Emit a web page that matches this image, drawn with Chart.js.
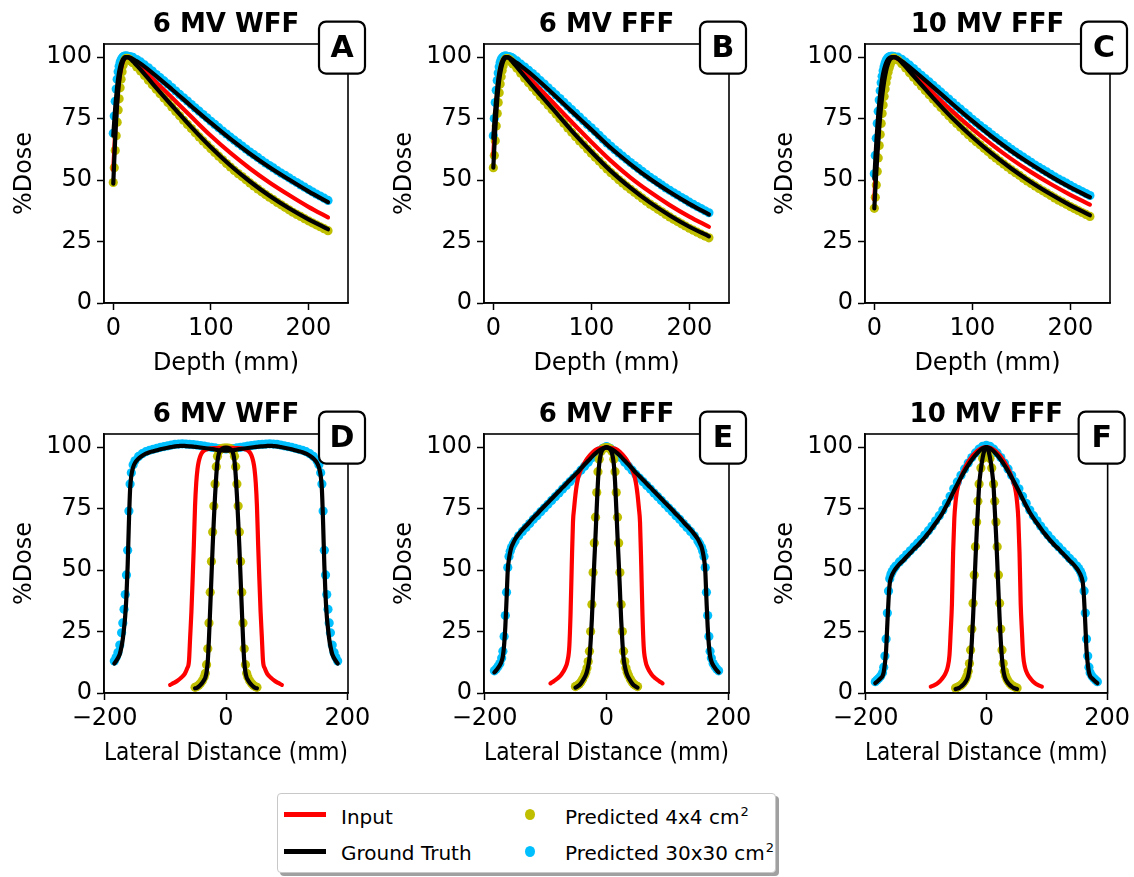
<!DOCTYPE html>
<html>
<head>
<meta charset="utf-8">
<script src="https://cdn.jsdelivr.net/npm/chart.js@4.4.1/dist/chart.umd.min.js"></script>
<style>
  body { margin: 0; background: #fff; width: 1134px; height: 877px; position: relative; overflow: hidden; font-family: "DejaVu Sans", sans-serif; }
  canvas { position: absolute; }
  #legend { position: absolute; left: 277px; top: 793px; width: 497px; height: 78px; border: 1px solid #c8c8c8; border-radius: 4px; background: #fff; box-shadow: 3px 3px 0 #a0a0a0; }
  #legend .ln { position: absolute; left: 6px; width: 42px; height: 4.5px; }
  #legend .dot { position: absolute; left: 247px; width: 10px; height: 11px; border-radius: 50%; }
  #legend .tx { position: absolute; font-size: 20px; line-height: 20px; color: #000; white-space: nowrap; }
  #legend sup { font-size: 13px; position: relative; top: -8px; vertical-align: baseline; margin-left: 1px; }
</style>
</head>
<body>
<canvas id="pA" width="378" height="380" style="left:0px;top:0px"></canvas>
<canvas id="pB" width="378" height="380" style="left:380px;top:0px"></canvas>
<canvas id="pC" width="373" height="380" style="left:761px;top:0px"></canvas>
<canvas id="pD" width="378" height="380" style="left:0px;top:390px"></canvas>
<canvas id="pE" width="378" height="380" style="left:380px;top:390px"></canvas>
<canvas id="pF" width="373" height="380" style="left:761px;top:390px"></canvas>

<div id="legend">
  <div class="ln" style="top:18px;background:#ff0000"></div>
  <div class="tx" style="left:63px;top:13px">Input</div>
  <div class="ln" style="top:55px;background:#000000"></div>
  <div class="tx" style="left:63px;top:49px">Ground Truth</div>
  <div class="dot" style="top:15px;background:#bfbf00"></div>
  <div class="tx" style="left:287px;top:13px">Predicted 4x4 cm<sup>2</sup></div>
  <div class="dot" style="top:52px;background:#00bfff"></div>
  <div class="tx" style="left:287px;top:49px">Predicted 30x30 cm<sup>2</sup></div>
</div>

<script>
// ---- depth dose curves (panels A-C) ----
const depthLine = [0,1,2,3,4,5,6,8,10,12,14,16,18,20,22,25,30,40,60,80,100,120,140,160,180,200,220];
const depthDots = [0,1,2,3,4,5,6,7,8,9,10,11,12,13,14,15,16,17,18,19,20,
  24,28,32,36,40,44,48,52,56,60,64,68,72,76,80,84,88,92,96,100,104,108,112,116,120,124,128,132,136,140,
  144,148,152,156,160,164,168,172,176,180,184,188,192,196,200,204,208,212,216,220];

const inputA = [54,62,70,77,82.5,87,90.5,95.3,98.3,99.7,100,99.8,99.4,98.8,98.1,97.0,95.2,91.3,83.5,75.7,68.0,61.0,54.7,49.0,43.9,39.1,34.8];
const truth4A = [48.5,58,67,75,81,86,90,95.3,98.3,99.6,100,99.7,99.1,98.3,97.5,96.2,94.0,89.3,80.3,71.5,63.3,55.9,49.4,43.6,38.5,34.0,30.0];
const truth30A = [68,74,79.5,84,88,91.3,94,97.3,99.2,100,100,99.9,99.6,99.2,98.7,98.1,96.7,93.6,86.9,80.0,73.2,66.7,60.7,55.2,50.2,45.4,41.0];
const pred4A = [49,55,62,68,73.5,78.5,83,87.5,91,94,96.7,98.0,98.9,99.4,99.5,99.3,99.1,98.8,98.5,98.1,97.7,
  96.0,94.3,92.5,90.6,88.7,86.9,85.1,83.3,81.5,79.7,77.9,76.1,74.3,72.6,70.9,69.2,67.5,65.9,64.3,62.7,
  61.2,59.7,58.2,56.7,55.3,53.9,52.6,51.4,50.1,48.8,47.6,46.4,45.2,44.1,43.0,42.0,40.9,39.9,38.9,37.9,
  36.9,36.0,35.2,34.3,33.4,32.6,31.8,31.0,30.2,29.4];
const pred30A = [69,76,82,87,91,94,96.3,97.8,98.8,99.5,100,100.3,100.4,100.4,100.4,100.3,100.2,100.1,100.0,99.9,99.9,
  99.0,98.0,96.8,95.6,94.3,92.9,91.6,90.3,89.0,87.6,86.2,84.8,83.4,82.1,80.7,79.3,78.0,76.6,75.3,73.9,
  72.6,71.3,69.9,68.7,67.4,66.2,65.0,63.8,62.6,61.4,60.3,59.2,58.0,56.9,55.9,54.9,53.8,52.8,51.9,50.9,
  49.9,49.0,48.0,47.1,46.1,45.2,44.3,43.5,42.6,41.7];

const inputB = [60,67.5,74.5,80.5,85.5,89.5,92.5,96.5,98.8,99.9,100,99.7,99.1,98.3,97.5,96.3,94.3,90.2,81.9,73.6,65.5,57.8,51.0,45.1,39.8,35.1,31.0];
const truth4B = [55,63,70.5,77,82.5,87,90.5,95.3,98.2,99.6,100,99.6,98.8,97.8,96.9,95.5,93.0,88.3,79.2,70.0,61.5,53.6,46.8,40.8,35.6,31.0,27.1];
const truth30B = [67,73,78.5,83,87,90.5,93.3,97,99.1,100,100,99.8,99.3,98.7,98.1,97.4,95.8,92.6,85.4,77.9,70.5,63.0,56.4,50.4,45.1,40.3,36.0];
const pred4B = [55,60,66,72,77,81.5,85.5,89,92,94.5,96.5,98,98.9,99.3,99.4,99.2,99.0,98.7,98.3,97.8,97.2,
  95.4,93.4,91.4,89.5,87.7,85.9,84.0,82.2,80.4,78.6,76.8,74.9,73.1,71.2,69.4,67.6,65.9,64.3,62.6,60.9,
  59.3,57.7,56.1,54.5,53.0,51.6,50.1,48.8,47.5,46.2,45.0,43.8,42.6,41.4,40.2,39.2,38.1,37.1,36.0,35.0,
  34.0,33.1,32.2,31.3,30.4,29.6,28.8,28.0,27.2,26.5];
const pred30B = [68,75,81.5,86.5,90.5,93.5,96,97.8,98.9,99.6,100,100.3,100.4,100.4,100.3,100.2,100.1,100.0,99.9,99.7,99.4,
  98.4,97.1,95.9,94.6,93.3,91.9,90.4,89.0,87.5,86.1,84.6,83.1,81.6,80.1,78.6,77.1,75.6,74.1,72.6,71.2,
  69.7,68.2,66.6,65.1,63.7,62.3,61.0,59.7,58.4,57.1,55.9,54.7,53.5,52.3,51.1,50.1,49.0,47.9,46.8,45.8,
  44.8,43.9,42.9,42.0,41.0,40.1,39.2,38.4,37.5,36.7];

const inputC = [42,49.5,56.5,63,69,74.5,79,86.5,92,95.8,98.3,99.5,100,100,99.7,99.0,97.3,93.4,85.4,77.8,70.8,64.4,58.5,53.2,48.4,44.0,40.0];
const truth4C = [38.5,46,53,59.5,65.5,71,76,84,90,94.3,97.2,99,99.7,100,99.8,99.0,96.9,92.3,83.4,75.0,67.5,60.7,54.6,49.1,44.2,39.7,35.7];
const truth30C = [50.5,58,65,71,76.5,81,85,91,95,97.6,99.1,99.8,100,100,99.8,99.2,97.8,94.6,87.8,80.8,74.0,67.6,61.7,56.4,51.5,47.0,43.0];
const pred4C = [38.5,43,48,53.5,59,64,68.5,73,77,80.5,84,87,89.5,91.8,93.8,95.4,96.8,97.9,98.7,99.3,99.6,
  98.8,97.3,95.5,93.6,91.8,90.0,88.2,86.4,84.7,82.9,81.2,79.5,77.8,76.1,74.5,73.0,71.5,69.9,68.4,67.0,
  65.6,64.3,62.9,61.6,60.2,59.0,57.7,56.5,55.3,54.1,53.0,51.9,50.7,49.6,48.6,47.6,46.6,45.6,44.7,43.7,
  42.7,41.8,41.0,40.1,39.2,38.4,37.6,36.8,36.0,35.2];
const pred30C = [52.5,60,67,73,78,82.5,86.3,89.5,92.2,94.4,96.1,97.5,98.5,99.2,99.7,100,100.2,100.3,100.3,100.3,100.2,
  100.0,99.1,97.9,96.7,95.3,93.9,92.6,91.2,89.9,88.5,87.1,85.7,84.3,82.9,81.5,80.1,78.8,77.4,76.1,74.7,
  73.4,72.1,70.9,69.7,68.4,67.2,66.0,64.8,63.6,62.5,61.4,60.3,59.3,58.2,57.2,56.1,55.2,54.2,53.3,52.3,
  51.3,50.4,49.6,48.7,47.8,46.9,46.1,45.3,44.5,43.7];

// ---- lateral profiles (panels D-F) ----
const latWide = [-184,-181,-178,-175,-172,-170,-168,-166,-164,-162,-160,-158,-156,-153,-150,
  -144,-138,-132,-126,-120,-114,-108,-102,-96,-90,-84,-78,-72,-66,-60,-54,-48,-42,-36,-30,-24,-18,-12,-6,
  0,
  6,12,18,24,30,36,42,48,54,60,66,72,78,84,90,96,102,108,114,120,126,132,138,144,
  150,153,156,158,160,162,164,166,168,170,172,175,178,181,184];
const latNarrow = [-51,-48,-45,-42,-39,-36,-34,-32,-30,-28,-26,-24,-22,-20,-18,-16,-14,-12,-9,-6,-3,0,3,6,9,12,14,16,18,20,22,24,26,28,30,32,34,36,39,42,45,48,51];
const latRed = [-92,-86,-80,-74,-68,-64,-61,-59,-57,-55,-53,-51,-49,-47,-45,-42,-38,-30,-15,0,15,30,38,42,45,47,49,51,53,55,57,59,61,64,68,74,80,86,92];

const inputD = [3.3,4.1,5.0,6.2,7.8,10,13,23,33,46,60,76,85.5,91,94,96.6,98.2,99.2,99.6,99.7,99.6,99.2,98.2,96.6,94,91,85.5,76,60,46,33,23,13,10,7.8,6.2,5.0,4.1,3.3];
const truth4D = [1.9,2.1,2.6,3.3,4.2,5.3,6.3,8.5,13,22.5,34.5,47,59.5,70.5,80.3,88.5,94.2,97.2,98.8,99.4,99.7,99.8,99.7,99.4,98.8,97.2,94.2,88.5,80.3,70.5,59.5,47,34.5,22.5,13,8.5,6.3,5.3,4.2,3.3,2.6,2.1,1.9];
const pred4D = [2.3,2.6,3.2,4.0,5.0,6.5,8.0,11.5,18,28.5,41,53.5,65.5,76,85,92,96.3,98.3,99.2,99.5,99.6,99.6,99.6,99.5,99.2,98.3,96.3,92,85,76,65.5,53.5,41,28.5,18,11.5,8.0,6.5,5.0,4.0,3.2,2.6,2.3];
const truth30D = [12.0,13.0,14.2,15.8,19.0,22.0,26.3,31.5,39.5,52,69,82.8,88.3,91.8,93.5,
  95.3,96.5,97.3,97.9,98.3,98.7,99.1,99.4,99.7,100.0,100.3,100.4,100.5,100.4,100.3,100.2,100.0,99.8,99.6,99.4,99.2,99.0,98.7,98.6,
  98.5,
  98.6,98.7,99.0,99.2,99.4,99.6,99.8,100.0,100.2,100.3,100.4,100.5,100.4,100.3,100.0,99.7,99.4,99.1,98.7,98.3,97.9,97.3,96.5,95.3,
  93.5,91.8,88.3,82.8,69,52,39.5,31.5,26.3,22.0,19.0,15.8,14.2,13.0,12.0];
const pred30D = [13.0,14.5,16.5,19.5,24.5,28.5,34,40,48,58,74,85,89.5,92.8,94.4,
  96.2,97.3,98.1,98.7,99.1,99.5,99.9,100.2,100.5,100.8,101.1,101.2,101.3,101.2,101.1,101.0,100.8,100.6,100.4,100.1,99.9,99.7,99.4,99.3,
  99.2,
  99.3,99.4,99.7,99.9,100.1,100.4,100.6,100.8,101.0,101.1,101.2,101.3,101.2,101.1,100.8,100.5,100.2,99.9,99.5,99.1,98.7,98.1,97.3,96.2,
  94.4,92.8,89.5,85,74,58,48,40,34,28.5,24.5,19.5,16.5,14.5,13.0];

const inputE = [3.9,4.9,6.0,7.5,10,13,19,32,52,69.5,75.5,80.5,84.3,87,88.9,90.8,92.7,95.8,99.2,99.8,99.2,95.8,92.7,90.8,88.9,87,84.3,80.5,75.5,69.5,52,32,19,13,10,7.5,6.0,4.9,3.9];
const truth4E = [2.2,2.6,3.1,3.9,5.0,6.3,7.3,8.8,11,14.2,21,30,42,53.5,64,75.5,86,93,97.5,99.1,99.8,100,99.8,99.1,97.5,93,86,75.5,64,53.5,42,30,21,14.2,11,8.8,7.3,6.3,5.0,3.9,3.1,2.6,2.2];
const pred4E = [2.6,3.0,3.6,4.5,5.7,7.2,8.4,10.2,12.8,17,25,36,49,61,71.5,81.5,90,95,98.2,99.3,99.7,99.8,99.7,99.3,98.2,95,90,81.5,71.5,61,49,36,25,17,12.8,10.2,8.4,7.2,5.7,4.5,3.6,3.0,2.6];
const truth30E = [8.4,9.2,10.2,11.3,13,15,19.5,27,38,50,54.5,57.3,59.3,61.0,62.5,
  64.6,66.4,68.0,69.6,71.3,72.8,74.4,75.9,77.4,79.0,80.5,82.0,83.6,85.1,86.6,88.1,89.6,91.3,92.9,94.4,96.0,97.4,98.6,99.4,
  99.8,
  99.4,98.6,97.4,96.0,94.4,92.9,91.3,89.6,88.1,86.6,85.1,83.6,82.0,80.5,79.0,77.4,75.9,74.4,72.8,71.3,69.6,68.0,66.4,64.6,
  62.5,61.0,59.3,57.3,54.5,50,38,27,19.5,15,13,11.3,10.2,9.2,8.4];
const pred30E = [9,9.8,10.8,12,14.2,17,23,31.5,41,51,55.5,57.6,59.2,60.6,61.8,
  63.9,65.7,67.3,68.9,70.6,72.1,73.7,75.2,76.7,78.3,79.8,81.3,82.9,84.4,85.9,87.4,88.9,90.6,92.2,93.8,95.6,97.1,98.4,99.5,
  100.2,
  99.5,98.4,97.1,95.6,93.8,92.2,90.6,88.9,87.4,85.9,84.4,82.9,81.3,79.8,78.3,76.7,75.2,73.7,72.1,70.6,68.9,67.3,65.7,63.9,
  61.8,60.6,59.2,57.6,55.5,51,41,31.5,23,17,14.2,12,10.8,9.8,9];

const inputF = [2.6,3.2,4.1,5.6,7.8,10.5,15.5,25,36,57,71,77.5,81.5,84,85.8,87.8,90.2,94,98.4,100,98.4,94,90.2,87.8,85.8,84,81.5,77.5,71,57,36,25,15.5,10.5,7.8,5.6,4.1,3.2,2.6];
const truth4F = [1.6,1.8,2.1,2.6,3.2,4.0,4.7,5.6,7.0,9.5,14,21,30.5,42,54,65,74.5,84,91,95.8,98.9,100,98.9,95.8,91,84,74.5,65,54,42,30.5,21,14,9.5,7.0,5.6,4.7,4.0,3.2,2.6,2.1,1.8,1.6];
const pred4F = [2.0,2.3,2.7,3.2,3.9,4.9,5.8,7.0,8.8,12,17.5,26,36.5,48,59.5,69.5,78,85,91.5,95.3,97.2,97.8,97.2,95.3,91.5,85,78,69.5,59.5,48,36.5,26,17.5,12,8.8,7.0,5.8,4.9,3.9,3.2,2.7,2.3,2.0];
const truth30F = [4.0,4.6,5.3,6.0,6.9,8.5,12,17.5,28,38,44.5,46.8,48.1,49.5,50.6,
  52.4,53.8,55.4,56.9,58.5,59.9,61.5,63.2,65.0,67.0,69.0,71.1,73.4,76.1,79.0,82.0,84.9,87.6,90.2,92.6,94.8,96.7,98.3,99.5,
  100.0,
  99.5,98.3,96.7,94.8,92.6,90.2,87.6,84.9,82.0,79.0,76.1,73.4,71.1,69.0,67.0,65.0,63.2,61.5,59.9,58.5,56.9,55.4,53.8,52.4,
  50.6,49.5,48.1,46.8,44.5,38,28,17.5,12,8.5,6.9,6.0,5.3,4.6,4.0];
const pred30F = [4.6,5.3,6.0,6.9,8.2,10.5,15,22,32.5,41.5,46.5,48.3,49.4,50.6,51.6,
  53.3,54.7,56.3,57.8,59.4,60.9,62.5,64.2,66.0,67.9,70.0,72.1,74.4,77.1,80.0,83.0,85.8,88.5,91.1,93.5,95.7,97.6,99.2,100.3,
  100.7,
  100.3,99.2,97.6,95.7,93.5,91.1,88.5,85.8,83.0,80.0,77.1,74.4,72.1,70.0,67.9,66.0,64.2,62.5,60.9,59.4,57.8,56.3,54.7,53.3,
  51.6,50.6,49.4,48.3,46.5,41.5,32.5,22,15,10.5,8.2,6.9,6.0,5.3,4.6];

// ---- ticks and labels ----
const doseTicks = [0, 25, 50, 75, 100];
const depthTicks = [0, 100, 200];
const latTicks = [-200, 0, 200];
const latTickLabels = ['\u2212200', '0', '200'];
const titles = ['6 MV WFF', '6 MV FFF', '10 MV FFF', '6 MV WFF', '6 MV FFF', '10 MV FFF'];
const letters = ['A', 'B', 'C', 'D', 'E', 'F'];

const olive = '#bfbf00';
const sky = '#00bfff';

Chart.defaults.font.family = "'DejaVu Sans', sans-serif";
Chart.defaults.color = '#000';

function pts(xs, ys) {
  return xs.map((x, i) => ({x: x, y: ys[i]}));
}

function lineSet(xs, ys, color) {
  return {
    data: pts(xs, ys), showLine: true, borderColor: color, borderWidth: 4.2,
    pointRadius: 0, cubicInterpolationMode: 'monotone',
    borderJoinStyle: 'round', borderCapStyle: 'round'
  };
}

function dotSet(xs, ys, color) {
  return {
    data: pts(xs, ys), showLine: false, pointRadius: 4.6,
    pointBackgroundColor: color, pointBorderWidth: 0, pointHoverRadius: 0
  };
}

// frame, panel title and the boxed letter
const panelDecor = {
  id: 'panelDecor',
  afterDraw(chart, args, opts) {
    const ctx = chart.ctx;
    const a = chart.chartArea;
    ctx.save();
    ctx.strokeStyle = '#000';
    ctx.lineWidth = 1.6;
    ctx.strokeRect(a.left, a.top, a.right - a.left, a.bottom - a.top);

    ctx.fillStyle = '#000';
    ctx.font = "bold 26px 'DejaVu Sans'";
    ctx.textAlign = 'center';
    ctx.textBaseline = 'alphabetic';
    ctx.fillText(opts.title, (a.left + a.right) / 2, 31.7);

    const cx = a.right - 6, cy = a.top + 3.6;
    const w = 46, h = 52, r = 7;
    const x0 = cx - w / 2, y0 = cy - h / 2;
    ctx.beginPath();
    ctx.moveTo(x0 + r, y0);
    ctx.arcTo(x0 + w, y0, x0 + w, y0 + h, r);
    ctx.arcTo(x0 + w, y0 + h, x0, y0 + h, r);
    ctx.arcTo(x0, y0 + h, x0, y0, r);
    ctx.arcTo(x0, y0, x0 + w, y0, r);
    ctx.closePath();
    ctx.fillStyle = '#fff';
    ctx.fill();
    ctx.lineWidth = 2.2;
    ctx.stroke();
    ctx.fillStyle = '#000';
    ctx.font = "bold 30px 'DejaVu Sans'";
    ctx.fillText(opts.letter, cx, cy + 9.4);
    ctx.restore();
  }
};

const tickGrid = {display: true, drawOnChartArea: false, drawTicks: true, tickLength: 7, tickWidth: 1.5, tickColor: '#000'};
const axisBorder = {display: true, color: '#000', width: 1.6};

const panels = [
  {id: 'pA', kind: 'depth', padR: 30, input: [depthLine, inputA], t4: [depthLine, truth4A], t30: [depthLine, truth30A], p4: [depthDots, pred4A], p30: [depthDots, pred30A]},
  {id: 'pB', kind: 'depth', padR: 29, input: [depthLine, inputB], t4: [depthLine, truth4B], t30: [depthLine, truth30B], p4: [depthDots, pred4B], p30: [depthDots, pred30B]},
  {id: 'pC', kind: 'depth', padR: 24, input: [depthLine, inputC], t4: [depthLine, truth4C], t30: [depthLine, truth30C], p4: [depthDots, pred4C], p30: [depthDots, pred30C]},
  {id: 'pD', kind: 'lat', padR: 30, input: [latRed, inputD], t4: [latNarrow, truth4D], t30: [latWide, truth30D], p4: [latNarrow, pred4D], p30: [latWide, pred30D]},
  {id: 'pE', kind: 'lat', padR: 29, input: [latRed, inputE], t4: [latNarrow, truth4E], t30: [latWide, truth30E], p4: [latNarrow, pred4E], p30: [latWide, pred30E]},
  {id: 'pF', kind: 'lat', padR: 24, input: [latRed, inputF], t4: [latNarrow, truth4F], t30: [latWide, truth30F], p4: [latNarrow, pred4F], p30: [latWide, pred30F]}
];

panels.forEach((p, i) => {
  const isDepth = p.kind === 'depth';
  new Chart(document.getElementById(p.id), {
    type: 'scatter',
    data: {
      datasets: [
        lineSet(p.t30[0], p.t30[1], '#000000'),
        lineSet(p.t4[0], p.t4[1], '#000000'),
        lineSet(p.input[0], p.input[1], '#ff0000'),
        dotSet(p.p4[0], p.p4[1], olive),
        dotSet(p.p30[0], p.p30[1], sky)
      ]
    },
    options: {
      responsive: false,
      animation: false,
      devicePixelRatio: 1,
      events: [],
      layout: {padding: {left: 0, top: 44, right: p.padR, bottom: 0}},
      plugins: {
        legend: {display: false},
        tooltip: {enabled: false},
        panelDecor: {title: titles[i], letter: letters[i]}
      },
      scales: {
        x: {
          type: 'linear',
          min: isDepth ? -9.5 : -201,
          max: isDepth ? 240.5 : 201,
          afterBuildTicks: s => { s.ticks = (isDepth ? depthTicks : latTicks).map(v => ({value: v})); },
          afterFit: s => { s.height = 77; },
          ticks: {
            font: {size: 24}, padding: 4, maxRotation: 0,
            callback: (v, idx) => isDepth ? String(depthTicks[idx]) : latTickLabels[idx]
          },
          grid: tickGrid,
          border: axisBorder,
          title: {display: true, text: isDepth ? 'Depth (mm)' : 'Lateral Distance (mm)', font: {size: 24}, padding: {top: 0, bottom: 2}}
        },
        y: {
          type: 'linear',
          min: 0,
          max: 105.3,
          afterBuildTicks: s => { s.ticks = doseTicks.map(v => ({value: v})); },
          afterFit: s => { s.width = 104; },
          ticks: {font: {size: 24}, padding: 5, callback: (v, idx) => String(doseTicks[idx])},
          grid: tickGrid,
          border: axisBorder,
          title: {display: true, text: '%Dose', font: {size: 24}, padding: {top: 10.6, bottom: 0}}
        }
      }
    },
    plugins: [panelDecor]
  });
});
</script>
</body>
</html>
